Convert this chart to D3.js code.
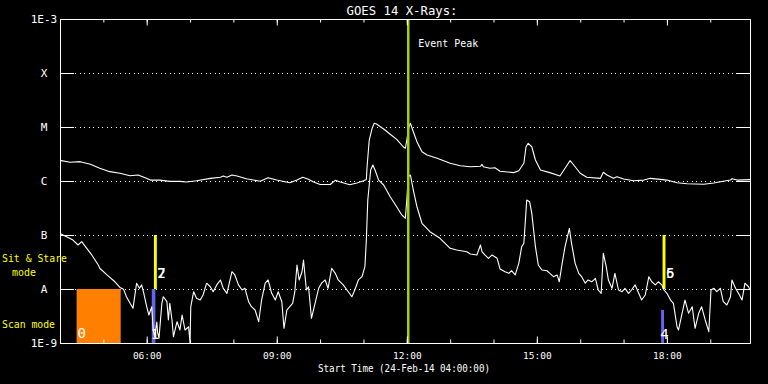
<!DOCTYPE html>
<html>
<head>
<meta charset="utf-8">
<script src="https://cdn.jsdelivr.net/npm/d3@7"></script>
<style>
  body { margin: 0; background: #000; }
  svg { display: block; background: #000; }
  text { font-family: "DejaVu Sans Mono", monospace; fill: #fff; }
</style>
</head>
<body>
<div id="chart"></div>
<script>

// GOES 14 long channel (1-8 A), [time, W/m^2]
const longChannel = [
  ["04:00",2.41e-6],["04:14",2.22e-6],["04:28",2.28e-6],["04:42",2.04e-6],["04:55",1.72e-6],
  ["05:09",1.49e-6],["05:23",1.39e-6],["05:37",1.25e-6],["05:48",1.29e-6],["05:58",1.15e-6],
  ["06:05",1.04e-6],["06:18",1.04e-6],["06:32",9.86e-7],["06:46",9.86e-7],["06:55",9.57e-7],
  ["07:09",1.01e-6],["07:28",1.12e-6],["07:42",1.17e-6],["07:46",1.24e-6],["07:51",1.17e-6],
  ["07:58",1.29e-6],["08:05",1.24e-6],["08:18",1.10e-6],["08:37",9.86e-7],["08:48",1.15e-6],
  ["09:00",1.04e-6],["09:18",9.31e-7],["09:28",1.04e-6],["09:36",1.17e-6],["09:43",1.09e-6],
  ["09:51",9.57e-7],["10:00",8.61e-7],["10:14",8.61e-7],["10:21",1.03e-6],["10:28",9.57e-7],
  ["10:41",8.51e-7],["10:51",9.18e-7],["11:00",1.01e-6],["11:04",1.07e-6],["11:05",1.84e-6],
  ["11:08",5.74e-6],["11:12",9.46e-6],["11:15",1.17e-5],["11:18",1.14e-5],["11:28",9.18e-6],
  ["11:37",7.33e-6],["11:46",5.91e-6],["11:55",4.31e-6],["11:58",4.04e-6],["12:00",5.74e-6],
  ["12:03",1.01e-5],["12:05",1.17e-5],["12:09",8.18e-6],["12:14",5.35e-6],["12:21",3.49e-6],
  ["12:28",3.03e-6],["12:42",2.63e-6],["13:00",2.13e-6],["13:14",1.92e-6],["13:28",1.84e-6],
  ["13:42",1.87e-6],["13:44",2.04e-6],["13:46",1.84e-6],["13:55",1.72e-6],["14:02",1.76e-6],
  ["14:09",1.52e-6],["14:28",1.43e-6],["14:35",1.55e-6],["14:42",2.13e-6],["14:45",4.31e-6],
  ["14:48",4.99e-6],["14:53",4.31e-6],["14:58",2.45e-6],["15:05",1.60e-6],["15:18",1.43e-6],
  ["15:32",1.24e-6],["15:42",1.98e-6],["15:46",2.38e-6],["15:51",1.98e-6],["16:00",1.39e-6],
  ["16:09",1.17e-6],["16:28",1.12e-6],["16:32",1.45e-6],["16:37",1.29e-6],["16:46",1.12e-6],
  ["16:51",1.20e-6],["17:00",1.09e-6],["17:14",1.01e-6],["17:28",1.04e-6],["17:37",1.12e-6],
  ["17:51",1.07e-6],["18:00",1.04e-6],["18:14",9.31e-7],["18:28",8.91e-7],["18:51",8.69e-7],
  ["19:05",9.18e-7],["19:14",9.70e-7],["19:28",1.04e-6],["19:30",1.10e-6],["19:37",1.04e-6],
  ["19:55",1.06e-6]
];

// GOES 14 short channel (0.5-4 A)
const shortChannel = [
  ["04:00",1.07e-7],["04:09",9.31e-8],["04:18",8.07e-8],["04:25",6.53e-8],["04:30",7.52e-8],
  ["04:37",5.67e-8],["04:44",4.27e-8],["04:53",2.78e-8],["04:55",2.42e-8],["05:05",1.82e-8],
  ["05:16",1.36e-8],["05:23",1.07e-8],["05:28",9.86e-9],["05:32",7.19e-9],["05:37",5.43e-9],
  ["05:41",4.39e-9],["05:44",8.32e-9],["05:46",1.28e-8],["05:50",1.03e-8],["05:53",1.19e-8],
  ["05:56",8.32e-9],["06:00",4.70e-9],["06:03",3.30e-9],["06:07",4.70e-9],["06:09",1.74e-9],
  ["06:11",1.31e-9],["06:14",2.45e-9],["06:15",1.60e-9],["06:17",1.22e-9],["06:21",5.43e-9],
  ["06:23",7.19e-9],["06:28",5.82e-9],["06:30",2.67e-9],["06:32",5.43e-9],["06:35",2.67e-9],
  ["06:37",1.31e-9],["06:42",2.48e-9],["06:46",1.74e-9],["06:49",3.30e-9],["06:53",1.74e-9],
  ["06:58",2.00e-9],["07:00",1.00e-9],["07:01",4.70e-9],["07:05",8.91e-9],["07:09",6.73e-9],
  ["07:14",6.25e-9],["07:18",7.74e-9],["07:23",1.28e-8],["07:28",1.10e-8],["07:32",8.91e-9],
  ["07:37",1.19e-8],["07:42",1.47e-8],["07:46",1.03e-8],["07:51",8.32e-9],["07:58",2.09e-8],
  ["08:02",1.82e-8],["08:07",1.19e-8],["08:12",9.58e-9],["08:16",1.03e-8],["08:21",5.82e-9],
  ["08:25",4.70e-9],["08:30",4.08e-9],["08:35",2.48e-9],["08:39",6.25e-9],["08:44",1.28e-8],
  ["08:48",1.47e-8],["08:53",8.32e-9],["08:58",6.25e-9],["09:02",8.91e-9],["09:07",5.82e-9],
  ["09:10",1.87e-9],["09:14",4.08e-9],["09:18",4.70e-9],["09:22",5.43e-9],["09:25",8.91e-9],
  ["09:28",2.78e-8],["09:31",1.47e-8],["09:35",2.09e-8],["09:37",3.44e-8],["09:41",9.58e-9],
  ["09:44",1.10e-8],["09:48",2.87e-9],["09:53",5.43e-9],["09:58",1.03e-8],["10:02",1.28e-8],
  ["10:07",1.47e-8],["10:11",1.03e-8],["10:16",2.42e-8],["10:21",1.95e-8],["10:25",1.47e-8],
  ["10:32",1.19e-8],["10:39",8.91e-9],["10:44",7.19e-9],["10:48",9.58e-9],["10:53",1.47e-8],
  ["10:58",1.69e-8],["11:02",2.59e-8],["11:04",8.07e-8],["11:06",4.45e-7],["11:10",1.60e-6],
  ["11:13",1.98e-6],["11:16",1.60e-6],["11:21",1.04e-6],["11:28",8.43e-7],["11:37",5.12e-7],
  ["11:46",3.34e-7],["11:53",2.35e-7],["11:58",2.04e-7],["12:00",4.45e-7],["12:02",1.20e-6],
  ["12:05",1.29e-6],["12:09",6.81e-7],["12:14",3.34e-7],["12:21",1.65e-7],["12:32",1.15e-7],
  ["12:46",8.69e-8],["13:00",5.67e-8],["13:09",5.27e-8],["13:23",4.91e-8],["13:28",4.45e-8],
  ["13:37",4.27e-8],["13:42",6.53e-8],["13:44",4.91e-8],["13:48",4.27e-8],["13:53",3.70e-8],
  ["13:58",4.27e-8],["14:05",3.70e-8],["14:09",2.35e-8],["14:16",2.09e-8],["14:21",1.95e-8],
  ["14:25",2.18e-8],["14:30",1.82e-8],["14:35",2.99e-8],["14:39",6.07e-8],["14:42",7.02e-8],
  ["14:46",4.45e-7],["14:50",4.14e-7],["14:53",2.52e-7],["14:58",6.07e-8],["15:02",2.78e-8],
  ["15:07",2.25e-8],["15:14",2.18e-8],["15:18",1.95e-8],["15:23",1.69e-8],["15:28",1.82e-8],
  ["15:31",1.36e-8],["15:35",2.99e-8],["15:39",6.07e-8],["15:45",1.33e-7],["15:48",7.02e-8],
  ["15:53",2.99e-8],["15:58",1.95e-8],["16:02",1.69e-8],["16:07",1.28e-8],["16:11",1.47e-8],
  ["16:16",1.36e-8],["16:21",1.58e-8],["16:25",9.58e-9],["16:29",8.32e-9],["16:32",4.58e-8],
  ["16:36",2.59e-8],["16:39",1.47e-8],["16:44",1.03e-8],["16:48",1.95e-8],["16:53",9.58e-9],
  ["16:58",8.91e-9],["17:02",1.03e-8],["17:07",8.32e-9],["17:11",9.58e-9],["17:16",1.19e-8],
  ["17:21",8.32e-9],["17:25",6.25e-9],["17:30",7.74e-9],["17:35",1.69e-8],["17:39",1.36e-8],
  ["17:44",1.19e-8],["17:48",1.36e-8],["17:53",1.19e-8],["17:56",9.58e-9],["18:00",8.32e-9],
  ["18:05",6.25e-9],["18:09",5.43e-9],["18:14",2.00e-9],["18:16",1.74e-9],["18:21",3.55e-9],
  ["18:25",6.25e-9],["18:30",3.55e-9],["18:35",4.70e-9],["18:39",1.87e-9],["18:44",3.55e-9],
  ["18:48",4.70e-9],["18:53",2.67e-9],["18:58",1.62e-9],["19:01",9.58e-9],["19:05",1.03e-8],
  ["19:09",8.91e-9],["19:14",1.03e-8],["19:18",5.82e-9],["19:23",5.05e-9],["19:28",7.19e-9],
  ["19:30",1.47e-8],["19:35",1.03e-8],["19:39",8.32e-9],["19:44",6.25e-9],["19:48",1.28e-8],
  ["19:53",1.10e-8],["19:55",9.58e-9]
];

// observing modes: [start, end, top flux, label]
const scanBlocks = [["04:23","05:24",1e-8,"0"]];
const scanBars = [["06:07","06:12",1e-8,"1"], ["17:52","17:56",4.1e-9,"4"]];
const stareBars = [["06:10","06:14",1e-7,["2","7"]], ["17:54","17:58",1e-7,["5","6"]]];

const eventPeak = "12:02";
const timeRange = ["04:00","19:55"];
const fluxTicks = [1e-9,1e-8,1e-7,1e-6,1e-5,1e-4,1e-3];
const fluxLabels = ["1E-9","A","B","C","M","X","1E-3"];

const W = 768, H = 384;
const MARGIN = {top: 19, right: 18, bottom: 41, left: 60};

const parse = d3.timeParse("%H:%M");

const svg = d3.select("#chart")
  .append("svg")
    .attr("width", W)
    .attr("height", H);

const x = d3.scaleTime()
    .domain(timeRange.map(parse))
    .range([MARGIN.left, W - MARGIN.right]);

const y = d3.scaleLog()
    .domain([1e-9, 1e-3])
    .range([H - MARGIN.bottom, MARGIN.top]);

svg.append("clipPath").attr("id", "plot")
  .append("rect")
    .attr("x", MARGIN.left).attr("y", MARGIN.top)
    .attr("width", W - MARGIN.left - MARGIN.right)
    .attr("height", H - MARGIN.top - MARGIN.bottom + 1);

// dotted level lines
svg.append("g")
  .selectAll("line")
  .data(fluxTicks.slice(1, -1))
  .join("line")
    .attr("x1", MARGIN.left + 15).attr("x2", W - MARGIN.right - 15)
    .attr("y1", d => Math.round(y(d)) + 0.5).attr("y2", d => Math.round(y(d)) + 0.5)
    .attr("stroke", "#fff")
    .attr("shape-rendering", "crispEdges")
    .attr("stroke-dasharray", "1,3.5");

// scan mode block (orange)
svg.append("g")
  .selectAll("rect")
  .data(scanBlocks)
  .join("rect")
    .attr("x", d => x(parse(d[0])))
    .attr("width", d => x(parse(d[1])) - x(parse(d[0])))
    .attr("y", d => y(d[2]))
    .attr("height", d => y(1e-9) - y(d[2]))
    .attr("fill", "#ff8000");

svg.append("g")
  .selectAll("rect")
  .data(scanBars)
  .join("rect")
    .attr("x", d => x(parse(d[0])))
    .attr("width", d => x(parse(d[1])) - x(parse(d[0])))
    .attr("y", d => y(d[2]))
    .attr("height", d => y(1e-9) - y(d[2]))
    .attr("fill", "#6464f0");

svg.append("g")
  .selectAll("rect")
  .data(stareBars)
  .join("rect")
    .attr("x", d => x(parse(d[0])))
    .attr("width", d => x(parse(d[1])) - x(parse(d[0])))
    .attr("y", d => y(d[2]))
    .attr("height", d => y(1e-8) - y(d[2]))
    .attr("fill", "#ffff00");

// curves
const line = d3.line()
    .x(d => x(parse(d[0])))
    .y(d => y(d[1]));

const curves = svg.append("g").attr("clip-path", "url(#plot)");
[longChannel, shortChannel].forEach(series => {
  curves.append("path")
    .datum(series)
    .attr("fill", "none")
    .attr("stroke", "#fff")
    .attr("stroke-width", 1.1)
    .attr("stroke-linejoin", "round")
    .attr("d", line);
});

// event peak
svg.append("line")
    .attr("x1", x(parse(eventPeak))).attr("x2", x(parse(eventPeak)))
    .attr("y1", y(1e-3)).attr("y2", y(1e-9))
    .attr("stroke", "#a2d10a")
    .attr("stroke-width", 2.5);

svg.append("text")
    .attr("x", x(parse(eventPeak)) + 10)
    .attr("y", 47)
    .attr("textLength", 60)
    .attr("lengthAdjust", "spacingAndGlyphs")
    .style("font-size", "11px")
    .text("Event Peak");

// mode labels
const label = svg.append("g").style("font-size", "14px");
label.selectAll(".lb-block")
  .data(scanBlocks)
  .join("text")
    .attr("x", d => x(parse(d[0])) + 1)
    .attr("y", y(1e-9) - 5)
    .text(d => d[3]);

label.selectAll(".lb-scan")
  .data(scanBars)
  .join("text")
    .attr("x", d => x(parse(d[0])) - 1)
    .attr("y", y(1e-9) - 4)
    .text(d => d[3]);

stareBars.forEach(d => {
  d[3].forEach(ch => {
    label.append("text")
      .attr("x", x(parse(d[1])) + 0.5)
      .attr("y", y(1e-8) - 11)
      .text(ch);
  });
});

// axes
const fmt = d3.timeFormat("%H:%M");
const xMinor = d3.timeHour.every(1), xMajor = d3.timeHour.every(3);

function styleAxis(g) {
  g.select(".domain").attr("stroke", "#fff");
  g.selectAll(".tick line").attr("stroke", "#fff");
  g.selectAll(".tick text")
    .attr("fill", "#fff")
    .style("font-family", "DejaVu Sans Mono, monospace");
  g.attr("font-family", null);
}

svg.append("g")
    .attr("transform", `translate(0,${H - MARGIN.bottom})`)
    .call(d3.axisBottom(x).ticks(xMinor).tickSize(-3.5).tickSizeOuter(0).tickFormat(""))
    .call(styleAxis);

svg.append("g")
    .attr("transform", `translate(0,${H - MARGIN.bottom})`)
    .call(d3.axisBottom(x).ticks(xMajor).tickSize(-6.5).tickSizeOuter(0).tickPadding(9).tickFormat(fmt))
    .call(styleAxis)
    .call(g => g.selectAll(".tick text").style("font-size", "9.5px"));

svg.append("g")
    .attr("transform", `translate(0,${MARGIN.top})`)
    .call(d3.axisTop(x).ticks(xMinor).tickSize(-3.5).tickSizeOuter(0).tickFormat(""))
    .call(styleAxis);

svg.append("g")
    .attr("transform", `translate(0,${MARGIN.top})`)
    .call(d3.axisTop(x).ticks(xMajor).tickSize(-6.5).tickSizeOuter(0).tickFormat(""))
    .call(styleAxis);

svg.append("g")
    .attr("transform", `translate(${MARGIN.left},0)`)
    .call(d3.axisLeft(y).tickValues(fluxTicks).tickSize(-14).tickSizeOuter(0)
      .tickFormat((d, i) => fluxLabels[i]))
    .call(styleAxis)
    .call(g => g.selectAll(".tick text")
      .attr("text-anchor", "middle")
      .attr("x", -16)
      .style("font-size", "11px"));

svg.append("g")
    .attr("transform", `translate(${W - MARGIN.right},0)`)
    .call(d3.axisRight(y).tickValues(fluxTicks).tickSize(-14).tickSizeOuter(0).tickFormat(""))
    .call(styleAxis);

// titles
svg.append("text")
    .attr("x", 402)
    .attr("y", 15)
    .attr("text-anchor", "middle")
    .attr("textLength", 111)
    .attr("lengthAdjust", "spacingAndGlyphs")
    .style("font-size", "12.5px")
    .text("GOES 14 X-Rays:");

svg.append("text")
    .attr("x", 404)
    .attr("y", 372)
    .attr("text-anchor", "middle")
    .attr("textLength", 172)
    .attr("lengthAdjust", "spacingAndGlyphs")
    .style("font-size", "10px")
    .text("Start Time (24-Feb-14 04:00:00)");

const modeText = svg.append("g").style("font-size", "11px");
modeText.append("text").attr("x", 2).attr("y", 262).attr("textLength", 65)
  .attr("lengthAdjust", "spacingAndGlyphs").style("fill", "#ffff00").text("Sit & Stare");
modeText.append("text").attr("x", 12).attr("y", 276).attr("textLength", 24)
  .attr("lengthAdjust", "spacingAndGlyphs").style("fill", "#ffff00").text("mode");
modeText.append("text").attr("x", 2).attr("y", 328).attr("textLength", 53)
  .attr("lengthAdjust", "spacingAndGlyphs").style("fill", "#ffff00").text("Scan mode");

</script>
</body>
</html>
